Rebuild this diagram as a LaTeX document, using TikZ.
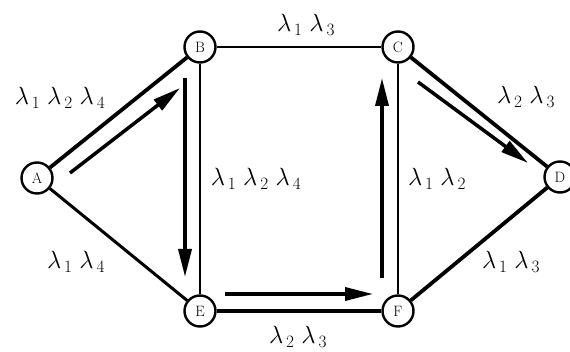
\documentclass[tikz,border=0pt]{standalone}
\usetikzlibrary{arrows.meta}
\begin{document}
\begin{tikzpicture}[x=1pt,y=-1pt,
 vtx/.style={circle,draw,line width=2.4pt,minimum size=31pt,inner sep=0pt,font=\fontsize{15}{15}\selectfont},
 thinedge/.style={line width=2pt},
 midedge/.style={line width=3pt},
 thickedge/.style={line width=3.8pt},
 flow/.style={line width=3.5pt,-{Triangle[length=28pt,width=13pt]}},
 lab/.style={font=\fontsize{26}{28}\selectfont, inner sep=0pt}]
\useasboundingbox (0,0) rectangle (570,352);
\fill[white] (0,0) rectangle (570,352);
% vertices
\node[vtx] (A) at (37,178) {A};
\node[vtx] (B) at (200,47) {B};
\node[vtx] (C) at (398,47) {C};
\node[vtx] (D) at (560,177) {D};
\node[vtx] (E) at (200,311) {E};
\node[vtx] (F) at (398,311) {F};
% edges
\draw[thickedge] (A) -- (B);
\draw[midedge] (A) -- (E);
\draw[thinedge] (B) -- (C);
\draw[thinedge] (B) -- (E);
\draw[thinedge] (C) -- (F);
\draw[thickedge] (C) -- (D);
\draw[thickedge] (E) -- (F);
\draw[thickedge] (F) -- (D);
% flow arrows
\coordinate (ab1) at (70,173);  \coordinate (ab2) at (180,88);
\coordinate (be1) at (185,78);  \coordinate (be2) at (185,277);
\coordinate (ef1) at (225,294); \coordinate (ef2) at (373,294);
\coordinate (fc1) at (382,278); \coordinate (fc2) at (382,78);
\coordinate (cd1) at (418,82);  \coordinate (cd2) at (528,163);
\draw[flow] (ab1) -- (ab2);
\draw[flow] (be1) -- (be2);
\draw[flow] (ef1) -- (ef2);
\draw[flow] (fc1) -- (fc2);
\draw[flow] (cd1) -- (cd2);
% labels
\node[lab] (lab) at (60,98) {$\lambda_{\,1}\;\lambda_{\,2}\;\lambda_{\,4}$};
\node[lab] (lbc) at (306,25) {$\lambda_{\,1}\;\lambda_{\,3}$};
\node[lab] (lcd) at (526,97) {$\lambda_{\,2}\;\lambda_{\,3}$};
\node[lab] (lbe) at (256,179) {$\lambda_{\,1}\;\lambda_{\,2}\;\lambda_{\,4}$};
\node[lab] (lcf) at (437,179) {$\lambda_{\,1}\;\lambda_{\,2}$};
\node[lab] (lae) at (76,262) {$\lambda_{\,1}\;\lambda_{\,4}$};
\node[lab] (lfd) at (511,262) {$\lambda_{\,1}\;\lambda_{\,3}$};
\node[lab] (lef) at (298,337) {$\lambda_{\,2}\;\lambda_{\,3}$};
\end{tikzpicture}
\end{document}
